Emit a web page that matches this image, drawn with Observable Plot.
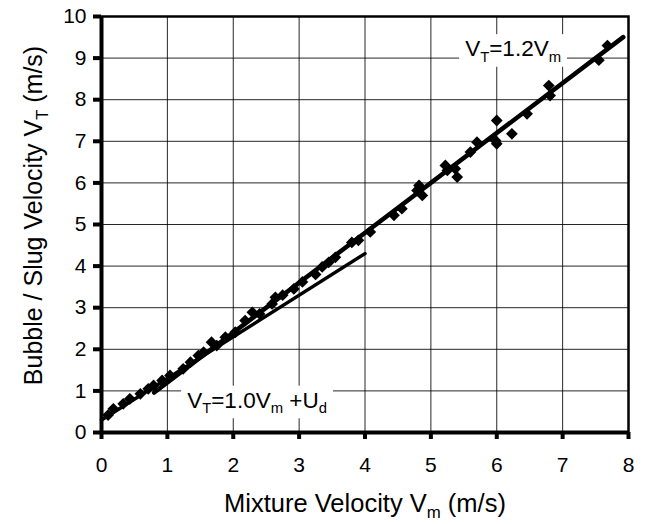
<!DOCTYPE html>
<html><head><meta charset="utf-8">
<script src="https://cdn.jsdelivr.net/npm/d3@7"></script>
<script src="https://cdn.jsdelivr.net/npm/@observablehq/plot@0.6"></script>
<style>body{margin:0;background:#fff}</style>
</head><body><div id="chart"></div>
<script>
// Measured points: mixture velocity Vm (m/s) and bubble/slug velocity VT (m/s)
const vm = [0.1,0.18,0.33,0.43,0.59,0.71,0.79,0.92,1.04,1.24,1.35,1.47,1.55,1.67,1.75,1.88,2.03,2.18,2.29,2.4,2.59,2.64,2.75,2.92,3.05,3.25,3.35,3.45,3.55,3.8,3.9,4.08,4.44,4.56,4.79,4.82,4.87,5.22,5.25,5.37,5.4,5.6,5.7,5.98,6.0,6.0,6.23,6.46,6.79,6.81,7.55,7.68];
const vt = [0.42,0.57,0.69,0.81,0.93,1.05,1.13,1.25,1.37,1.53,1.69,1.85,1.93,2.17,2.09,2.29,2.41,2.69,2.89,2.85,3.09,3.25,3.3,3.45,3.62,3.8,3.98,4.09,4.21,4.57,4.62,4.82,5.22,5.38,5.82,5.94,5.7,6.42,6.3,6.34,6.14,6.74,6.98,7.02,7.5,6.94,7.18,7.66,8.34,8.1,8.95,9.3];

const xTicks = [0,1,2,3,4,5,6,7,8];
const yTicks = [0,1,2,3,4,5,6,7,8,9,10];

// Reference lines: VT = C0*Vm + Ud, drawn over the x-extents shown
const fitSlopes = [1.2, 1.0];
const fitIntercepts = [0, 0.3];
const fitXStart = [0.8, 0];
const fitXEnd = [7.92, 4.0];

const xTitle = "Mixture Velocity V{m} (m/s)";
const yTitle = "Bubble / Slug Velocity V{T} (m/s)";
const annText = ["V{T}=1.2V{m}", "V{T}=1.0V{m} +U{d}"];
const annX = [5.52, 1.30];
const annY = [9.22, 0.77];

const points = vm.map((x, i) => ({x, y: vt[i]}));
const fits = fitSlopes.map((s, k) => [fitXStart[k], fitXEnd[k]].map(x => ({x, y: fitIntercepts[k] + s * x, k})));
const ann = annText.map((t, i) => ({t, x: annX[i], y: annY[i]}));

const plot = Plot.plot({
  width: 646, height: 524,
  marginLeft: 101, marginRight: 18, marginTop: 16, marginBottom: 92,
  x: {domain: [0, 8]},
  y: {domain: [0, 10]},
  style: {fontFamily: "'Liberation Sans', Arial, Helvetica, sans-serif", background: "#fff", color: "#000"},
  marks: [
    Plot.gridX(xTicks, {stroke: "#000", strokeOpacity: 0.85, strokeWidth: 1}),
    Plot.gridY(yTicks, {stroke: "#000", strokeOpacity: 0.85, strokeWidth: 1}),
    Plot.axisX(xTicks, {tickSize: 7, tickPadding: 18, fontSize: 21, strokeWidth: 4, label: null, tickFormat: d => String(d)}),
    Plot.axisY(yTicks, {tickSize: 8, tickPadding: 7, fontSize: 21, strokeWidth: 4, label: null, tickFormat: d => String(d)}),
    Plot.line(fits[1], {x: "x", y: "y", stroke: "#000", strokeWidth: 3.5}),
    Plot.line(fits[0], {x: "x", y: "y", stroke: "#000", strokeWidth: 4.5}),
    Plot.dot(points, {x: "x", y: "y", symbol: "diamond2", r: 5.3, fill: "#000", stroke: "none"}),
    Plot.text(ann, {x: "x", y: "y", text: "t", textAnchor: "start", lineAnchor: "middle", fontSize: 22.5, fill: "#000"}),
    Plot.frame({stroke: "#000", strokeWidth: 2.5}),
    Plot.ruleX([0], {stroke: "#000", strokeWidth: 4}),
    Plot.ruleY([0], {stroke: "#000", strokeWidth: 4}),
    Plot.text([xTitle], {frameAnchor: "bottom", dy: 71, textAnchor: "middle", lineAnchor: "middle", fontSize: 25.5, fill: "#000"}),
    Plot.text([yTitle], {frameAnchor: "left", dx: -68, dy: -9, rotate: -90, textAnchor: "middle", lineAnchor: "middle", fontSize: 25, fill: "#000"})
  ]
});
document.getElementById("chart").append(plot);

// Turn {x} markers into subscript tspans; add white boxes behind annotations
const NS = "http://www.w3.org/2000/svg";
const annSet = new Set(annText);
function subscriptify(t) {
  const s = t.textContent;
  if (!s.includes("{")) return;
  const fs = parseFloat(getComputedStyle(t).fontSize) || 20;
  while (t.firstChild) t.removeChild(t.firstChild);
  const parts = s.split(/(\{[^}]*\})/).filter(p => p);
  const shift = fs * 0.25;
  let down = false;
  for (const p of parts) {
    const ts = document.createElementNS(NS, "tspan");
    if (p.startsWith("{")) {
      ts.textContent = p.slice(1, -1);
      ts.style.fontSize = (fs * 0.66) + "px";
      if (!down) { ts.setAttribute("dy", shift); down = true; }
    } else {
      ts.textContent = p;
      if (down) { ts.setAttribute("dy", -shift); down = false; }
    }
    t.appendChild(ts);
  }
}
plot.querySelectorAll("text").forEach(t => {
  const s = t.textContent;
  const isAnn = annSet.has(s);
  subscriptify(t);
  if (isAnn) {
    const b = t.getBBox();
    const r = document.createElementNS(NS, "rect");
    r.setAttribute("x", b.x - 6);
    r.setAttribute("y", b.y - 2);
    r.setAttribute("width", b.width + 12);
    r.setAttribute("height", b.height + 4);
    r.setAttribute("fill", "#fff");
    r.setAttribute("stroke", "none");
    const tr = t.getAttribute("transform");
    if (tr) r.setAttribute("transform", tr);
    t.parentNode.insertBefore(r, t);
  }
});
</script>
</body></html>
